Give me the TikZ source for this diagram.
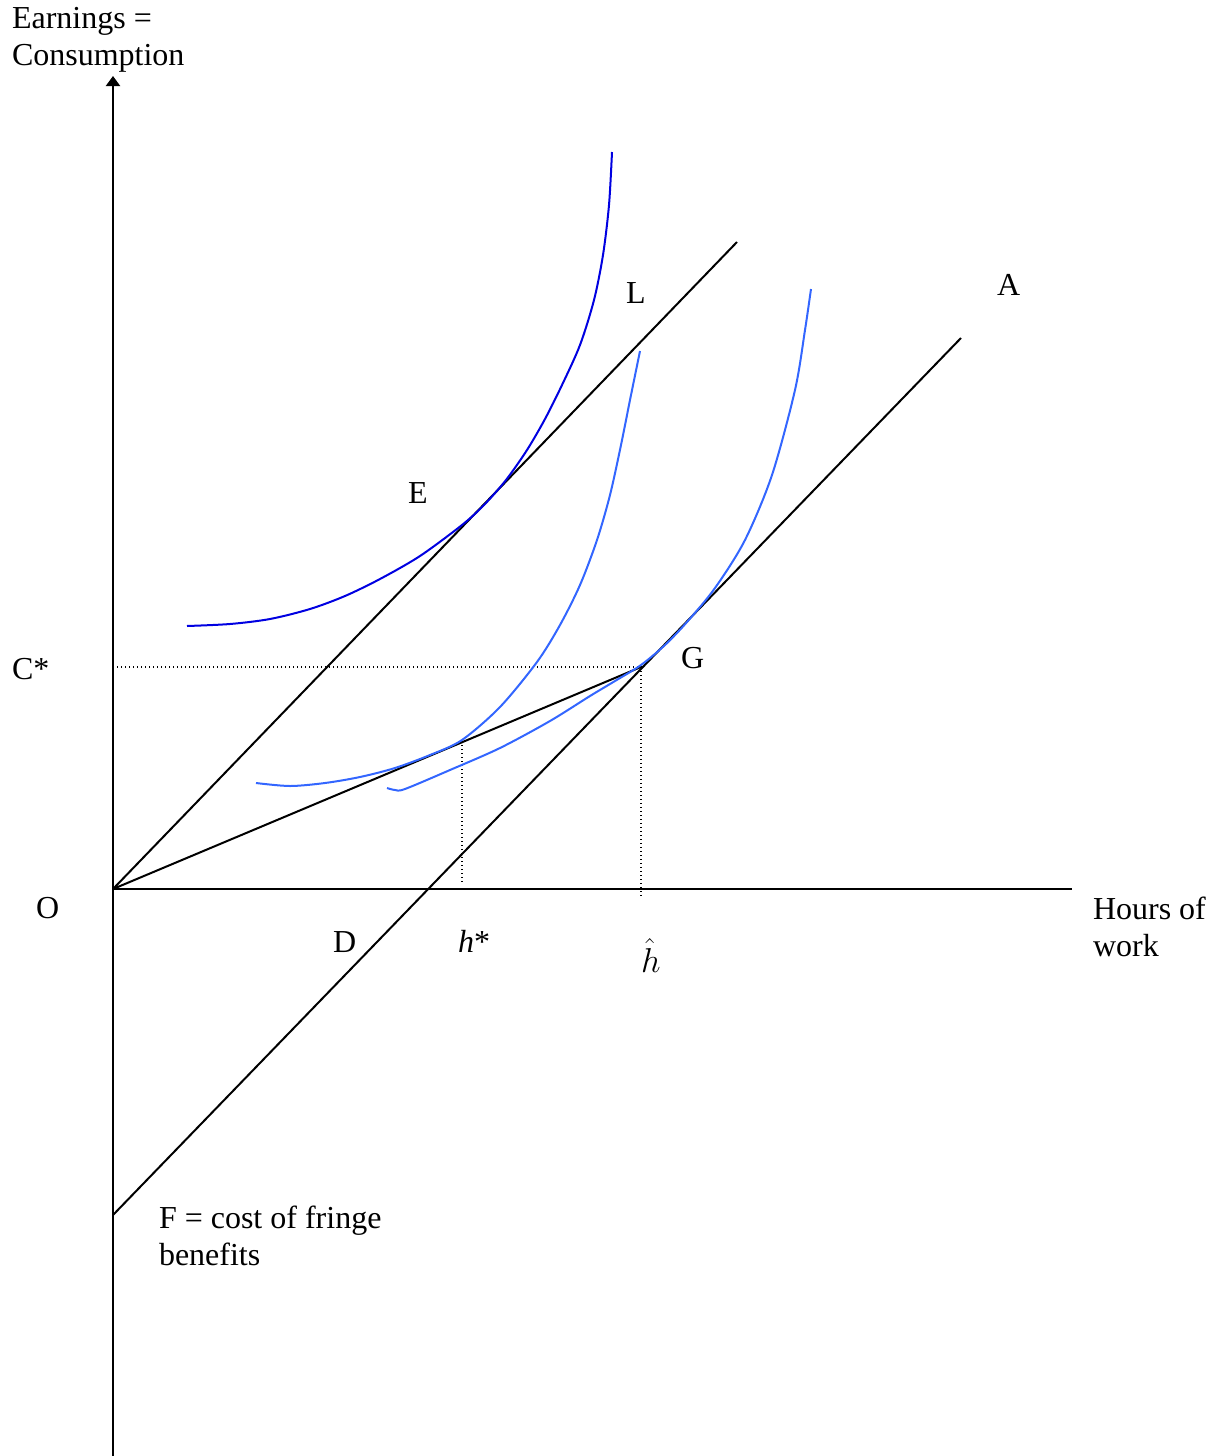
\documentclass[tikz,border=0pt]{standalone}
\usepackage{fontspec}
\setmainfont{Liberation Serif}
\usetikzlibrary{arrows.meta}
\definecolor{icdark}{RGB}{0,0,225}
\definecolor{iclight}{RGB}{51,102,255}
\begin{document}
\begin{tikzpicture}[x=0.5pt,y=-0.5pt,font=\fontsize{16}{18.5}\selectfont,line width=1pt,
  lbl/.style={anchor=base west,inner sep=0pt},
  guide/.style={line width=0.6pt,dash pattern=on 0.6pt off 1.4pt}]
  \useasboundingbox (0,0) rectangle (1214,1456);
  % axes
  \coordinate (O) at (113,889);
  \coordinate (ytop) at (113,76);
  \coordinate (ybot) at (113,1456);
  \coordinate (xend) at (1072,889);
  \draw[-{Triangle[width=7pt,length=5pt]}] (ybot) -- (ytop);
  \draw (O) -- (xend);
  % budget lines
  \coordinate (F) at (113,1215);
  \coordinate (Aend) at (961,338);
  \coordinate (Lend) at (737,242);
  \coordinate (G) at (641,667);
  \coordinate (Cs) at (113,667);
  \coordinate (hs) at (462,741);
  \coordinate (Gfoot) at (641,898);
  \coordinate (hsfoot) at (462,882);
  \draw (O) -- (Lend);
  \draw (F) -- (Aend);
  \draw (O) -- (G);
  \draw[guide] (Cs) -- (G) -- (Gfoot);
  \draw[guide] (hs) -- (hsfoot);
  % indifference curves
  \draw[icdark] plot[smooth] coordinates {(187,626) (230,624) (270,619)
    (310,609) (345,596) (380,579) (420,556) (462,525) (484,505) (506,480)
    (527,450) (545,419) (562,385) (580,345) (594,300) (603,255) (609,205)
    (612,152)};
  \draw[iclight] plot[smooth] coordinates {(256,783) (290,786) (325,783)
    (360,777) (395,768) (430,755) (462,740) (500,707) (537,662) (560,625)
    (580,585) (597,540) (610,495) (621,445) (630,400) (640,351)};
  \draw[iclight] plot[smooth] coordinates {(387,788) (395,790) (405,789) (450,770)
    (500,748) (550,721) (590,696) (615,681) (641,665) (665,645) (687,622)
    (715,588) (745,540) (772,475) (795,390) (805,330) (811,289)};
  % labels
  \node[lbl,align=left] (ylab) at (11,65) {Earnings =\\Consumption};
  \node[lbl] (Cstar) at (11,679) {C*};
  \node[lbl] (Olab) at (35,918) {O};
  \node[lbl] (Dlab) at (332,952) {D};
  \node[lbl] (hstar) at (457,952) {\textit{h}*};
  \node[lbl] (hhat) at (640,972) {$\hat{h}$};
  \node[lbl] (Glab) at (680,668) {G};
  \node[lbl] (Elab) at (407,503) {E};
  \node[lbl] (Llab) at (625,303) {L};
  \node[lbl] (Alab) at (996,295) {A};
  \node[lbl,align=left] (xlab) at (1092,956) {Hours of\\work};
  \node[lbl,align=left] (Flab) at (158,1265) {F = cost of fringe\\benefits};
\end{tikzpicture}
\end{document}
